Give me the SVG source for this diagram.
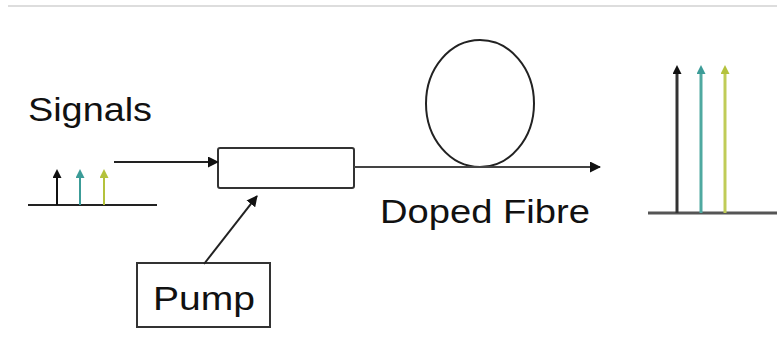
<svg xmlns="http://www.w3.org/2000/svg" width="777" height="338" viewBox="0 0 777 338">
<style>
.t{font-family:"Liberation Sans",Arial,sans-serif;font-size:34px;fill:#111}
.ln{stroke:#222;stroke-width:2;fill:none}
.box{stroke:#333;stroke-width:2;fill:#fff}
</style>
<defs>
<marker id="ah" markerWidth="11" markerHeight="11" refX="10" refY="5.5" orient="auto" markerUnits="userSpaceOnUse"><path d="M0,0 L11,5.5 L0,11 Z" fill="#111"/></marker>
<marker id="ahk" markerWidth="9" markerHeight="9" refX="4.5" refY="8" orient="0" markerUnits="userSpaceOnUse"><path d="M0,9 L4.5,0 L9,9 Z" fill="#111"/></marker>
<marker id="aht" markerWidth="9" markerHeight="9" refX="4.5" refY="8" orient="0" markerUnits="userSpaceOnUse"><path d="M0,9 L4.5,0 L9,9 Z" fill="#3c9c98"/></marker>
<marker id="ahy" markerWidth="9" markerHeight="9" refX="4.5" refY="8" orient="0" markerUnits="userSpaceOnUse"><path d="M0,9 L4.5,0 L9,9 Z" fill="#b4c23c"/></marker>
</defs>
<rect width="777" height="338" fill="#fff"/>
<line x1="8" y1="6" x2="777" y2="6" stroke="#ddd" stroke-width="2"/>
<g id="signals-label"><text class="t" x="28" y="121" textLength="124" lengthAdjust="spacingAndGlyphs">Signals</text></g>
<g id="input-spectrum">
<line x1="28" y1="205" x2="157" y2="205" stroke="#222" stroke-width="2"/>
<line x1="57" y1="205" x2="57" y2="177" stroke="#111" stroke-width="2" marker-end="url(#ahk)"/>
<line x1="80" y1="205" x2="80" y2="177" stroke="#3c9c98" stroke-width="2" marker-end="url(#aht)"/>
<line x1="104" y1="205" x2="104" y2="177" stroke="#b4c23c" stroke-width="2" marker-end="url(#ahy)"/>
</g>
<g id="coupler"><rect class="box" x="218" y="148" width="136" height="40" rx="2"/></g>
<g id="fibre-loop"><ellipse cx="480" cy="103.5" rx="54" ry="63.5" class="ln"/></g>
<g id="fibre-label"><text class="t" x="380" y="223" textLength="210" lengthAdjust="spacingAndGlyphs">Doped Fibre</text></g>
<g id="pump"><rect class="box" x="137" y="263" width="133" height="64"/><text class="t" x="153" y="310" textLength="102" lengthAdjust="spacingAndGlyphs">Pump</text></g>
<g id="output-spectrum">
<line x1="648" y1="213" x2="777" y2="213" stroke="#555" stroke-width="3"/>
<line x1="677" y1="213" x2="677" y2="73" stroke="#333" stroke-width="3" marker-end="url(#ahk)"/>
<line x1="701" y1="213" x2="701" y2="73" stroke="#4fa9a0" stroke-width="3" marker-end="url(#aht)"/>
<line x1="725" y1="213" x2="725" y2="73" stroke="#c0cc58" stroke-width="3" marker-end="url(#ahy)"/>
</g>
<g id="connectors">
<line x1="114" y1="162" x2="218" y2="162" class="ln" marker-end="url(#ah)"/>
<line x1="354" y1="167" x2="600" y2="167" stroke="#444" stroke-width="2" marker-end="url(#ah)"/>
<line x1="204" y1="264" x2="257" y2="196" class="ln" marker-end="url(#ah)"/>
</g>
</svg>
